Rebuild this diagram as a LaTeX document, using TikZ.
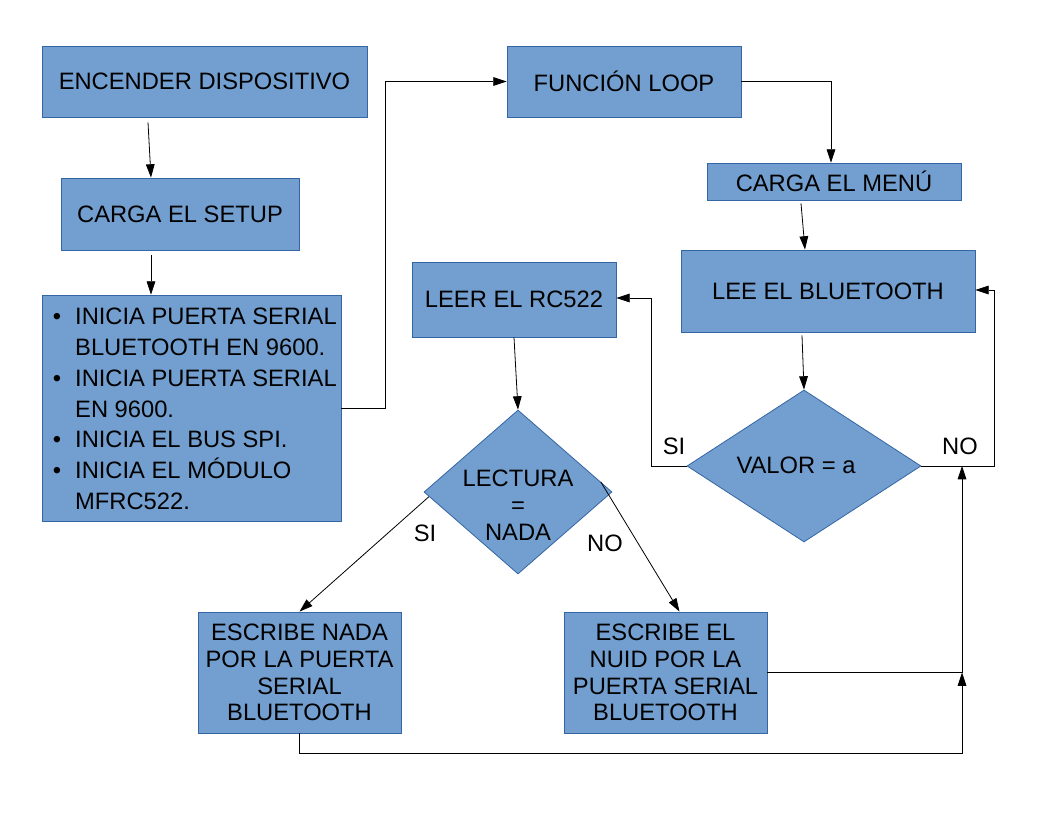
\documentclass[tikz,border=0pt]{standalone}
\usepackage{fontspec}
\setmainfont{Liberation Sans}
\usetikzlibrary{shapes.geometric,arrows.meta,calc}
\definecolor{boxfill}{HTML}{729FCF}
\definecolor{boxline}{HTML}{3465A4}
\begin{document}
\begin{tikzpicture}[x=0.75pt,y=-0.75pt,
  every node/.style={font=\fontsize{17.8}{20}\selectfont},
  box/.style={draw=boxline,fill=boxfill,line width=0.6pt,inner sep=0pt,align=center},
  diam/.style={diamond,draw=boxline,fill=boxfill,line width=0.6pt,inner sep=0pt},
  conn/.style={line width=0.6pt},
  arr/.style={conn,-{Triangle[length=10pt,width=6.5pt]}},
  lbl/.style={inner sep=0pt}]
\useasboundingbox (0,0) rectangle (1056,816);
\node[box,minimum width=243.75pt,minimum height=53.25pt] (enc) at (204.5,81.5) {ENCENDER DISPOSITIVO};
\node[box,minimum width=178.5pt,minimum height=54pt] (setup) at (180,214) {CARGA EL SETUP};
\node[box,minimum width=224.25pt,minimum height=169.5pt] (ini) at (191.5,408) {};
\node[lbl,anchor=west,align=left] (initxt) at ($(ini.west)+(11,3)$) {\fontsize{17.8}{23.1}\selectfont
\begin{tabular}{@{}l@{\hspace{10.5pt}}l@{}}
\textbullet & INICIA PUERTA SERIAL\\
 & BLUETOOTH EN 9600.\\
\textbullet & INICIA PUERTA SERIAL\\
 & EN 9600.\\
\textbullet & INICIA EL BUS SPI.\\
\textbullet & INICIA EL MÓDULO\\
 & MFRC522.
\end{tabular}};
\node[box,minimum width=175.5pt,minimum height=53.25pt] (loop) at (624,81.5) {FUNCIÓN LOOP};
\node[box,minimum width=190.5pt,minimum height=27.75pt] (menu) at (834,181.5) {CARGA EL MENÚ};
\node[box,minimum width=220.5pt,minimum height=61.5pt] (lee) at (828,291) {LEE EL BLUETOOTH};
\node[box,minimum width=153pt,minimum height=56.25pt] (rc) at (514,299.5) {LEER EL RC522};
\node[diam,minimum width=175.5pt,minimum height=114pt] (valor) at (804,466) {};
\node[lbl] (valortxt) at (796,465) {VALOR = a};
\node[diam,minimum width=141pt,minimum height=123pt] (lect) at (518,492) {};
\node[lbl,align=center,font=\fontsize{17.8}{20.25}\selectfont] (lecttxt) at (518,505) {LECTURA\\=\\NADA};
\node[box,minimum width=152.25pt,minimum height=90.75pt] (nada) at (299.5,672.5) {ESCRIBE NADA\\POR LA PUERTA\\SERIAL\\BLUETOOTH};
\node[box,minimum width=152.25pt,minimum height=90.75pt] (nuid) at (665.5,672.5) {ESCRIBE EL\\NUID POR LA\\PUERTA SERIAL\\BLUETOOTH};
\coordinate (j) at (962,672.5);
% labels
\node[lbl] (si1) at (674,446) {SI};
\node[lbl] (no1) at (960,446) {NO};
\node[lbl] (si2) at (425,533) {SI};
\node[lbl] (no2) at (605,543) {NO};
% connectors
\draw[arr] ($(enc.south)+(-56.5,5)$) -- ($(setup.north)+(-29,0)$);
\draw[arr] ($(setup.south)+(-29,5)$) -- ($(ini.north)+(-40.5,0)$);
\draw[arr] (ini.east) -- ++(44,0) |- (loop.west);
\draw[arr] (loop.east) -| ($(menu.north)+(-3,0)$);
\draw[arr] ($(menu.south)+(-33,3)$) -- ($(lee.north)+(-23,0)$);
\draw[arr] ($(lee.south)+(-26,3)$) -- (valor.north);
\draw[arr] (valor.west) -- ++(-35,0) |- ($(rc.east)+(0,-1.5)$);
\draw[arr] (valor.east) -- ++(73,0) |- ($(lee.east)+(0,-1)$);
\draw[arr] (rc.south) -- (lect.north);
\draw[arr] (lect.183) -- (nada.north);
\draw[arr] (lect.7) -- ($(nuid.north)+(14,0)$);
\draw[conn] (nuid.east) -- (j);
\draw[arr] (nada.south) -- ++(0,19.5) -| (j);
\draw[arr] (j) -- (j |- valor.east);
\end{tikzpicture}
\end{document}
